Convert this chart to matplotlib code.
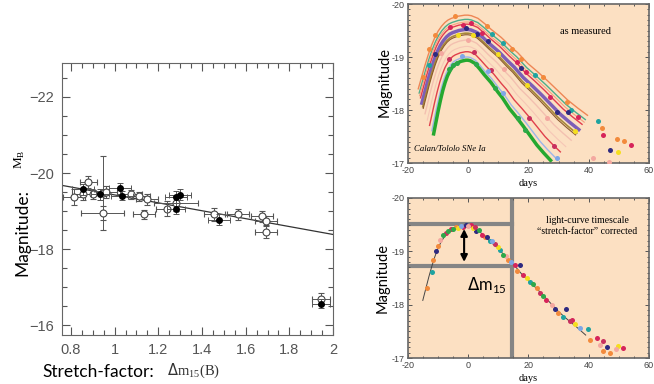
import numpy as np
import matplotlib.pyplot as plt
from matplotlib.ticker import MultipleLocator

# ---- left panel: peak magnitude vs decline rate ----
open_dm15 = [0.814, 0.880, 0.857, 0.899, 0.945, 0.945, 0.962, 1.077, 1.110, 1.150, 1.135,
             1.240, 1.280, 1.457, 1.563, 1.675, 1.695, 1.695, 1.945]
open_mag = [-19.37, -19.76, -19.44, -19.44, -18.95, -19.47, -19.50, -19.44, -19.39, -19.31, -18.91,
            -19.06, -19.20, -18.91, -18.91, -18.86, -18.74, -18.45, -16.69]
open_xerr = [0.05, 0.04, 0.05, 0.05, 0.10, 0.03, 0.05, 0.05, 0.05, 0.05, 0.05,
             0.05, 0.10, 0.05, 0.05, 0.05, 0.05, 0.05, 0.04]
open_yerr = [0.20, 0.15, 0.15, 0.12, 0.18, 0.97, 0.15, 0.12, 0.12, 0.15, 0.13,
             0.20, 0.20, 0.18, 0.15, 0.15, 0.12, 0.15, 0.15]

fill_dm15 = [0.857, 0.933, 1.026, 1.035, 1.280, 1.280, 1.300, 1.476, 1.945]
fill_mag = [-19.57, -19.44, -19.60, -19.40, -19.06, -19.37, -19.43, -18.77, -16.56]
fill_xerr = [0.05, 0.04, 0.05, 0.05, 0.04, 0.05, 0.05, 0.05, 0.04]
fill_yerr = [0.15, 0.15, 0.15, 0.12, 0.15, 0.15, 0.15, 0.15, 0.12]

fit_slope = 1.04      # mag per unit dm15
fit_mag_at_1p1 = -19.32

# ---- right panels: light curves ----
tmpl_t = [-15, -14, -13, -12, -11, -10, -9, -8, -7, -6, -5, -3, -1, 0, 1, 3, 5, 7, 10, 13, 15,
          18, 21, 24, 27, 30, 33, 36, 39]
tmpl_m = [-18.08, -18.30, -18.52, -18.72, -18.90, -19.05, -19.17, -19.26, -19.33, -19.38, -19.41,
          -19.45, -19.47, -19.47, -19.46, -19.41, -19.31, -19.20, -19.05, -18.87, -18.76, -18.56,
          -18.40, -18.23, -18.05, -17.87, -17.72, -17.58, -17.43]
tmpl_peak = -19.47

sn_stretch = [1.10, 1.08, 1.05, 1.02, 1.00, 0.95, 0.85, 0.80, 0.76, 1.07, 0.99, 0.90]
sn_peak = [-19.79, -19.71, -19.62, -19.52, -19.45, -19.32, -19.10, -19.00, -18.94, -19.66, -19.42, -19.20]
sn_line_color = ['#EE8655', '#4DAE8A', '#E23B4E', '#7D5FB7', '#A7893A', '#F3C0B0', '#E0404C',
                 '#9DB6EA', '#25A830', '#F4A080', '#8B5A2B', '#F6C6B6']
sn_dot_color = ['#F28A3C', '#1FA3A0', '#D6245A', '#2E2A80', '#F5DE1E', '#F4A8A0', '#C8305E',
                '#7FA7E6', '#2DA84A', '#F4A080', '#8B5A2B', '#F6C6B6']
sn_lw = [1.0, 1.0, 1.0, 2.5, 1.2, 1.0, 1.0, 1.0, 2.5, 0.8, 0.8, 0.8]

# corrected observations (days, mag, supernova index)
obs_t = [-13.5, -12.1, -11.7, -10.7, -9.9, -9.3, -8.2, -7.4, -6.5, -5.6, -4.9, -4.0, -3.2, -2.4, -1.6,
         -0.8, 0.1, 0.9, 1.7, 2.4, 2.8, 3.6, 4.5, 5.6, 6.4, 7.3, 8.1, 8.9, 9.8, 10.6, 11.7, 12.5, 13.3,
         14.4, 15.5, 16.1, 17.2, 18.3, 19.4, 20.5, 21.6, 22.7, 23.8, 24.9, 26.0, 27.7, 28.8, 29.9, 31.5,
         32.5, 33.7, 34.6, 35.4, 37.0, 39.8, 40.4, 42.6, 44.8, 44.8, 43.7, 46.0, 47.0, 49.2, 49.6, 51.4]
obs_m = [-18.31, -18.61, -18.83, -19.00, -19.10, -19.22, -19.30, -19.34, -19.38, -19.42, -19.41, -19.46,
         -19.44, -19.48, -19.45, -19.50, -19.47, -19.49, -19.44, -19.46, -19.38, -19.40, -19.31, -19.27,
         -19.26, -19.19, -19.20, -19.13, -19.08, -19.03, -18.94, -18.92, -18.84, -18.80, -18.75, -18.64,
         -18.75, -18.56, -18.50, -18.43, -18.38, -18.31, -18.22, -18.16, -18.09, -18.00, -17.91, -17.84,
         -17.76, -17.92, -17.69, -17.72, -17.63, -17.56, -17.55, -17.34, -17.38, -17.31, -17.13, -17.25,
         -17.20, -17.10, -17.16, -17.22, -17.19]
obs_sn = [0, 1, 0, 3, 0, 5, 8, 6, 8, 2, 8, 0, 4, 7, 2, 3, 5, 2, 4, 6, 3, 8, 2, 0, 3, 1, 7, 6, 4, 1, 8,
          5, 0, 7, 2, 0, 3, 2, 4, 1, 8, 0, 6, 8, 2, 5, 3, 0, 1, 3, 6, 2, 4, 7, 1, 0, 2, 6, 0, 5, 3, 0,
          5, 4, 2]

peak_level = -19.52
level_15 = -18.72
day_15 = 14.5

bg = '#FCE0C2'
fig = plt.figure(figsize=(6.54, 3.84), dpi=100)

# ----- left -----
ax = fig.add_axes([0.0948, 0.1276, 0.4144, 0.708])
ax.errorbar(open_dm15, open_mag, xerr=open_xerr, yerr=open_yerr, fmt='o', mfc='white', mec='#444',
            mew=0.8, ms=5, ecolor='#555', elinewidth=0.7, capsize=2, capthick=0.7, zorder=3)
ax.errorbar(fill_dm15, fill_mag, xerr=fill_xerr, yerr=fill_yerr, fmt='o', mfc='black', mec='black',
            ms=4, ecolor='#555', elinewidth=0.7, capsize=2, capthick=0.7, zorder=4)
xx = np.array([0.759, 2.0])
ax.plot(xx, fit_mag_at_1p1 + fit_slope * (xx - 1.1), color='#333', lw=0.9)
ax.set_xlim(0.759, 2.0)
ax.set_ylim(-15.74, -22.89)
ax.set_xticks([0.8, 1.0, 1.2, 1.4, 1.6, 1.8, 2.0], labels=['0.8', '1', '1.2', '1.4', '1.6', '1.8', '2'])
ax.set_yticks([-22, -20, -18, -16], labels=['\u221222', '\u221220', '\u221218', '\u221216'])
ax.xaxis.set_minor_locator(MultipleLocator(0.05))
ax.yaxis.set_minor_locator(MultipleLocator(0.5))
ax.tick_params(which='both', direction='in', top=True, right=True, color='#555', width=0.8)
ax.tick_params(which='major', length=6, labelsize=10.5, labelcolor='#555', pad=6)
ax.tick_params(which='minor', length=3.5)
for lab in ax.get_xticklabels() + ax.get_yticklabels():
    lab.set_family('Liberation Sans')
for sp in ax.spines.values():
    sp.set_color('#666')

fig.text(22 / 654, 1 - 233 / 384, 'Magnitude:', rotation=90, family='Lato', size=12.5,
         ha='center', va='center')
fig.text(20 / 654, 1 - 159 / 384, r'M$_{\mathregular{B}}$', rotation=90, family='Liberation Serif',
         size=9.5, ha='center', va='center')
fig.text(42 / 654, 1 - 372 / 384, 'Stretch-factor:', family='Lato', size=12.5, ha='left', va='center')
fig.text(167 / 654, 1 - 371 / 384, r'$\Delta$m$_{\mathregular{15}}$(B)', family='Liberation Serif',
         size=10.5, color='#333', ha='left', va='center')

# ----- right panels -----
axT = fig.add_axes([0.6234, 0.5755, 0.369, 0.414])
axB = fig.add_axes([0.6234, 0.0677, 0.369, 0.4167])
for a in (axT, axB):
    a.set_facecolor(bg)
    a.set_xlim(-20, 60)
    a.set_ylim(-17, -20)
    a.set_xticks([-20, 0, 20, 40, 60], labels=['-20', '0', '20', '40', '60'])
    a.set_yticks([-20, -19, -18, -17], labels=['-20', '-19', '-18', '-17'])
    a.xaxis.set_minor_locator(MultipleLocator(5))
    a.yaxis.set_minor_locator(MultipleLocator(0.1))
    a.tick_params(which='both', direction='in', top=True, right=True, color='#555', width=0.7)
    a.tick_params(which='major', length=3, labelsize=6.5, labelcolor='#444', pad=2)
    a.tick_params(which='minor', length=1.5)
    for lab in a.get_xticklabels() + a.get_yticklabels():
        lab.set_family('Liberation Sans')
    a.set_xlabel('days', family='Liberation Serif', size=7.5, labelpad=3)
    for sp in a.spines.values():
        sp.set_color('#666')
        sp.set_linewidth(1.2)

tt = np.array(tmpl_t)
tm = np.array(tmpl_m)
ot = np.array(obs_t)
om = np.array(obs_m)
osn = np.array(obs_sn)
for i in range(len(sn_stretch)):
    axT.plot(tt[:-1] * sn_stretch[i], tm[:-1] - tmpl_peak + sn_peak[i], color=sn_line_color[i],
             lw=sn_lw[i], zorder=2)
for i in range(len(sn_stretch)):
    sel = osn == i
    if not sel.any():
        continue
    axT.scatter(ot[sel] * sn_stretch[i], om[sel] - tmpl_peak + sn_peak[i], s=13, color=sn_dot_color[i],
                lw=0, zorder=3)
    axB.scatter(ot[sel], om[sel], s=13, color=sn_dot_color[i], lw=0, zorder=3)
axB.plot(tt, tm, color='#444', lw=0.7, zorder=2)

axT.text(39, -19.49, 'as measured', family='Liberation Serif', size=7.5, ha='center', va='center')
axT.text(-6, -17.27, 'Calan/Tololo SNe Ia', family='Liberation Serif', style='italic', size=6.3,
         ha='center', va='center')

gray = '#858585'
axB.plot([-20, day_15], [peak_level, peak_level], color=gray, lw=3, zorder=1)
axB.plot([-20, day_15], [level_15, level_15], color=gray, lw=3, zorder=1)
axB.axvline(day_15, color=gray, lw=3, zorder=1)
axB.annotate('', xy=(-1.3, tmpl_peak), xytext=(-1.3, level_15 - 0.03),
             arrowprops=dict(arrowstyle='<|-|>', color='black', lw=1.5, mutation_scale=10), zorder=5)
axB.text(-0.5, -18.37, r'$\Delta$m$_{\mathregular{15}}$', family='Lato', size=12, ha='left', va='center')
axB.text(39.5, -19.47, 'light-curve timescale\n\u201cstretch-factor\u201d corrected', family='Liberation Serif',
         size=7, ha='center', va='center', linespacing=1.3)

fig.text(385 / 654, 1 - 82 / 384, 'Magnitude', rotation=90, family='Lato', size=10.5, ha='center', va='center')
fig.text(383 / 654, 1 - 278 / 384, 'Magnitude', rotation=90, family='Lato', size=10.5, ha='center', va='center')

fig.savefig('out.png', dpi=100)
